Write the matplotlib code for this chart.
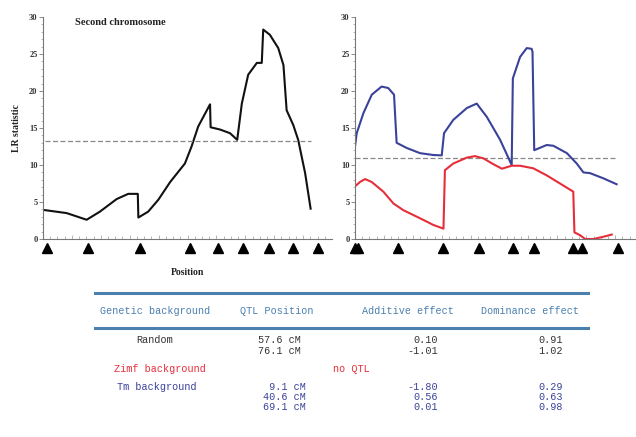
import numpy as np
import matplotlib.pyplot as plt
from matplotlib.lines import Line2D

# LR profile, second chromosome, random background (position in cM)
left_pos = [0.7, 8.2, 15.1, 19.7, 25.5, 29.5, 32.8, 33.0, 36.4, 39.9, 44.0, 49.1, 51.4, 53.7,
            57.8, 58.0, 61.2, 64.7, 67.2, 68.8, 71.0, 74.0, 75.7, 76.2, 78.5, 81.4, 83.2, 84.3,
            86.6, 88.3, 90.7, 92.6]
left_lr = [3.9, 3.5, 2.6, 3.7, 5.4, 6.1, 6.1, 2.9, 3.7, 5.3, 7.7, 10.2, 12.5, 15.2,
           18.2, 15.1, 14.8, 14.3, 13.4, 18.3, 22.2, 23.8, 23.8, 28.3, 27.6, 25.8, 23.5, 17.4,
           15.4, 13.4, 8.9, 4.1]
left_thr = 13.3
left_markers = [1.4, 15.6, 33.6, 50.9, 60.6, 69.2, 78.2, 86.5, 95.0]

# Tm background (blue) and Zimf background (red)
tm_pos = [0.0, 0.6, 2.9, 5.8, 9.2, 11.5, 13.5, 14.4, 17.9, 22.5, 27.1, 30.0, 30.8, 34.0,
          38.7, 42.1, 45.6, 50.2, 54.2, 54.6, 57.1, 59.4, 61.1, 61.4, 62.0, 66.3, 68.6, 73.3,
          76.7, 79.0, 81.3, 85.9, 90.5]
tm_lr = [12.5, 14.3, 17.0, 19.5, 20.6, 20.4, 19.5, 13.0, 12.3, 11.6, 11.35, 11.3, 14.3, 16.1,
         17.7, 18.3, 16.5, 13.4, 10.0, 21.7, 24.6, 25.8, 25.7, 25.3, 12.0, 12.7, 12.6, 11.6,
         10.2, 9.0, 8.9, 8.2, 7.4]
zimf_pos = [0.0, 1.7, 3.5, 5.8, 9.8, 13.3, 16.7, 22.5, 27.1, 30.6, 31.1, 34.0, 38.7, 41.5,
            44.4, 47.9, 50.8, 54.2, 57.1, 61.7, 66.3, 70.9, 75.5, 75.9, 77.9, 79.6, 82.5,
            85.9, 88.8]
zimf_lr = [7.1, 7.7, 8.1, 7.7, 6.4, 4.8, 3.9, 2.8, 1.9, 1.4, 9.3, 10.2, 11.0, 11.2,
           10.9, 10.1, 9.5, 9.9, 9.9, 9.55, 8.6, 7.5, 6.4, 0.9, 0.5, 0.0, 0.0,
           0.3, 0.6]
right_thr = 10.9
right_markers = [0.0, 1.2, 15.0, 30.3, 43.0, 54.6, 61.8, 75.5, 78.4, 90.9]

# table
header = ['Genetic background', 'QTL Position', 'Additive effect', 'Dominance effect']
rand_qtl = ['57.6 cM', '76.1 cM']
rand_add = ['0.10', '-1.01']
rand_dom = ['0.91', '1.02']
tm_qtl = [' 9.1 cM', '40.6 cM', '69.1 cM']
tm_add = ['-1.80', '0.56', '0.01']
tm_dom = ['0.29', '0.63', '0.98']

BLUE = '#3a429a'
RED = '#e62e3a'
STEEL = '#4a7fae'
serif = 'Liberation Serif'
mono = 'Liberation Mono'

fig = plt.figure(figsize=(6.36, 4.37), dpi=100)
fig.patch.set_facecolor('white')

ax1 = fig.add_axes([43/636, 1-239/437, 289/636, 222/437])
ax2 = fig.add_axes([355/636, 1-239/437, 281/636, 222/437])

for ax, xmax in [(ax1, 100), (ax2, 97.2)]:
    ax.set_xlim(0, xmax)
    ax.set_ylim(0, 30)
    for s in ['top', 'right']:
        ax.spines[s].set_visible(False)
    for s in ['left', 'bottom']:
        ax.spines[s].set_color('#777777')
        ax.spines[s].set_linewidth(0.8)
    ax.set_yticks(np.arange(0, 31, 5))
    ax.set_yticks(np.arange(0, 31, 1), minor=True)
    ax.set_xticks(np.arange(0, xmax, 10))
    ax.set_xticks(np.arange(0, xmax, 2.5), minor=True)
    ax.tick_params(axis='y', which='major', length=3, width=0.6, color='#777777',
                   labelsize=6, pad=1, labelcolor='#333333')
    ax.tick_params(axis='y', which='minor', length=1.5, width=0.5, color='#999999')
    ax.tick_params(axis='x', which='both', direction='in', labelbottom=False,
                   color='#999999', width=0.5)
    ax.tick_params(axis='x', which='major', length=3)
    ax.tick_params(axis='x', which='minor', length=2)
    for lab in ax.get_yticklabels():
        lab.set_fontfamily(serif)
        lab.set_fontweight('bold')
    ax.patch.set_alpha(0)

ax1.plot(left_pos, left_lr, color='#111111', lw=1.5)
ax1.plot([left_pos[0], left_pos[-1]], [left_thr, left_thr], color='#888888', lw=0.9,
         dashes=(4, 2))
ax1.plot(left_markers, [-1.2] * len(left_markers), '^', color='black', ms=6.5, clip_on=False)
ax1.text(11, 29.3, 'Second chromosome', fontsize=7.5, fontweight='bold', family=serif,
         va='center', color='#222222')
ax1.set_ylabel('LR statistic', fontsize=7, fontweight='bold', family=serif, labelpad=6,
               color='#222222')
ax1.set_xlabel('Position', fontsize=7, fontweight='bold', family=serif, labelpad=21,
               color='#222222')

ax2.plot([0, 90.5], [right_thr, right_thr], color='#888888', lw=0.9, dashes=(4, 2))
ax2.plot(tm_pos, tm_lr, color=BLUE, lw=1.5)
ax2.plot(zimf_pos, zimf_lr, color=RED, lw=1.5)
ax2.plot(right_markers, [-1.2] * len(right_markers), '^', color='black', ms=6.5, clip_on=False)

# table drawn in pixel coordinates
tab = fig.add_axes([0, 0, 1, 1], zorder=-1)
tab.set_xlim(0, 636)
tab.set_ylim(437, 0)
tab.axis('off')

for yl in [293, 328]:
    tab.add_line(Line2D([95, 588], [yl, yl], color=STEEL, lw=2.2))

for x, h in zip([155, 277, 408, 530], header):
    tab.text(x, 311, h, color=STEEL, family=mono, fontsize=7.3, ha='center', va='center')

tab.text(155, 340, 'Random', color='#333333', family=mono, fontsize=7.3, ha='center', va='center')
for i, y in enumerate([340, 351]):
    tab.text(258, y, rand_qtl[i], color='#333333', family=mono, fontsize=7.3, va='center')
    tab.text(438, y, rand_add[i], color='#333333', family=mono, fontsize=7.3, ha='right', va='center')
    tab.text(563, y, rand_dom[i], color='#333333', family=mono, fontsize=7.3, ha='right', va='center')

tab.text(160, 369, 'Zimf background', color=RED, family=mono, fontsize=7.3, ha='center', va='center')
tab.text(333, 369, 'no QTL', color=RED, family=mono, fontsize=7.3, va='center')

tab.text(157, 387, 'Tm background', color=BLUE, family=mono, fontsize=7.3, ha='center', va='center')
for i, y in enumerate([387, 397, 407]):
    tab.text(263, y, tm_qtl[i], color=BLUE, family=mono, fontsize=7.3, va='center')
    tab.text(438, y, tm_add[i], color=BLUE, family=mono, fontsize=7.3, ha='right', va='center')
    tab.text(563, y, tm_dom[i], color=BLUE, family=mono, fontsize=7.3, ha='right', va='center')

fig.savefig('out.png', dpi=100)
